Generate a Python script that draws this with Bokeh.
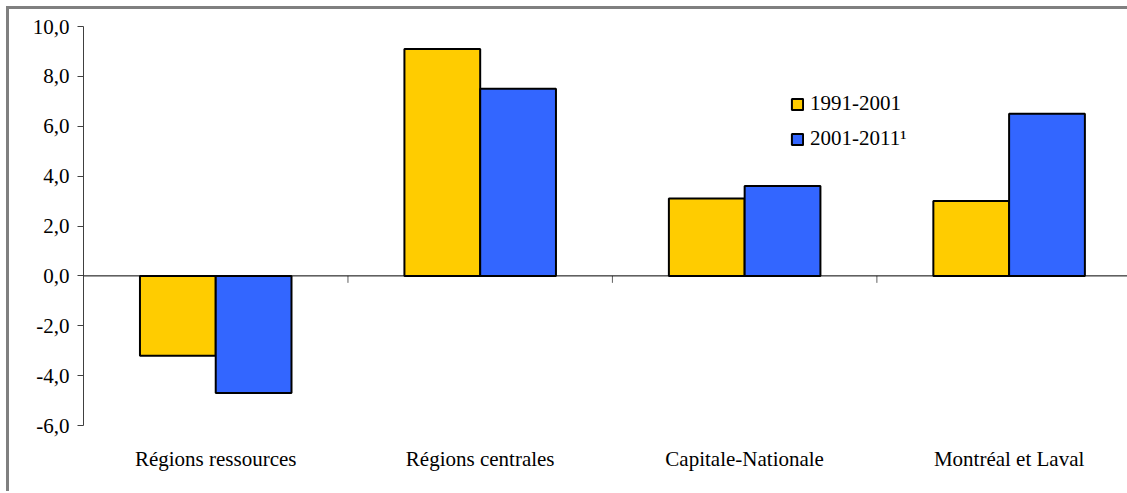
from bokeh.plotting import figure
from bokeh.models import (ColumnDataSource, FixedTicker, LinearAxis, Range1d, Legend, LegendItem, Span)
from bokeh.embed import file_html
from bokeh.resources import INLINE

# ---- data ----
categories = ["Régions ressources", "Régions centrales", "Capitale-Nationale", "Montréal et Laval"]
v_1991_2001 = [-3.2, 9.1, 3.1, 3.0]
v_2001_2011 = [-4.7, 7.5, 3.6, 6.5]
series_names = ["1991-2001", "2001-2011\u00b9"]
y_ticks = [-6, -4, -2, 0, 2, 4, 6, 8, 10]
y_tick_labels = ["-6,0", "-4,0", "-2,0", "0,0", "2,0", "4,0", "6,0", "8,0", "10,0"]

FONT = "Liberation Serif"
FS = "21px"
YELLOW = "#FFCC00"
BLUE = "#3366FF"

centers = [i + 0.5 for i in range(len(categories))]
separators = [float(i) for i in range(1, len(categories) + 1)]
bw = 0.2865
src = ColumnDataSource(dict(
    x1=[c - bw / 2 for c in centers],
    x2=[c + bw / 2 for c in centers],
    a=v_1991_2001,
    b=v_2001_2011,
))

p = figure(width=1121, height=485, output_backend="svg", toolbar_location=None,
           x_axis_type=None, x_range=Range1d(0, 3.959), y_range=Range1d(-6, 10),
           min_border_left=74, min_border_right=0, min_border_top=17, min_border_bottom=69)
p.styles = {"border-top": "3px solid #808080", "border-left": "3px solid #808080",
            "margin-top": "6px", "margin-left": "6px"}
p.outline_line_color = None
p.grid.visible = False
p.background_fill_color = "white"
p.border_fill_color = "white"

# zero line and category separators
p.add_layout(Span(location=0, dimension="width", line_color="black", line_width=1))
p.segment(x0=separators, y0=[0] * len(separators), x1=separators, y1=[-0.28] * len(separators),
          line_color="#606060", line_width=1)

r1 = p.vbar(x="x1", top="a", bottom=0, width=bw, source=src, fill_color=YELLOW,
            line_color="black", line_width=2)
r2 = p.vbar(x="x2", top="b", bottom=0, width=bw, source=src, fill_color=BLUE,
            line_color="black", line_width=2)

# y axis
ya = p.yaxis[0]
ya.ticker = FixedTicker(ticks=y_ticks)
ya.major_label_overrides = {t: l for t, l in zip(y_ticks, y_tick_labels)}
ya.major_label_text_font = FONT
ya.major_label_text_font_size = FS
ya.major_label_text_font_style = "normal"
ya.major_label_text_color = "black"
ya.axis_line_color = "#404040"
ya.major_tick_line_color = "#404040"
ya.major_tick_in = 0
ya.major_tick_out = 6
ya.minor_tick_line_color = None
ya.major_label_standoff = 8

# category labels axis
ca = LinearAxis(ticker=FixedTicker(ticks=centers))
ca.major_label_overrides = {c: n for c, n in zip(centers, categories)}
ca.major_label_text_font = FONT
ca.major_label_text_font_size = FS
ca.major_label_text_color = "black"
ca.axis_line_color = None
ca.major_tick_line_color = None
ca.major_tick_in = 0
ca.major_tick_out = 0
ca.minor_tick_line_color = None
ca.major_label_standoff = 21
p.add_layout(ca, "below")

legend = Legend(items=[LegendItem(label=series_names[0], renderers=[r1]),
                       LegendItem(label=series_names[1], renderers=[r2])],
                location=(707, 274))
legend.label_text_font = FONT
legend.label_text_font_size = FS
legend.label_text_color = "black"
legend.glyph_width = 14
legend.glyph_height = 14
legend.label_height = 20
legend.label_standoff = 6
legend.spacing = 10
legend.padding = 0
legend.margin = 0
legend.border_line_color = None
legend.background_fill_alpha = 0
p.add_layout(legend)

open("out.html", "w").write(file_html(p, INLINE))
